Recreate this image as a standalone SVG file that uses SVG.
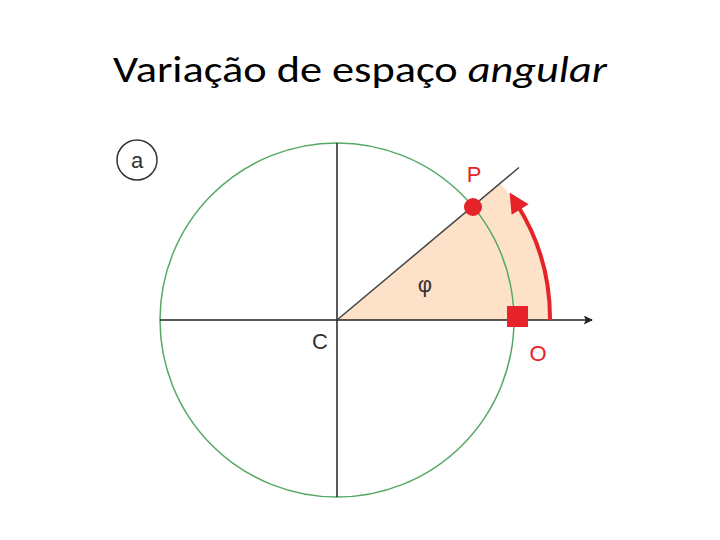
<svg xmlns="http://www.w3.org/2000/svg" width="720" height="540" viewBox="0 0 720 540">
<style>
.title{font-family:"Carlito","Liberation Sans",sans-serif;font-size:36px;fill:#000}
.lbl{font-family:"Liberation Sans","DejaVu Sans",sans-serif;font-size:22px}
.red{fill:#e52329}
.axis{stroke:#222;stroke-width:1.5;fill:none}
</style>
<defs>
<marker id="ah" viewBox="0 0 10 10" refX="9" refY="5" markerWidth="14" markerHeight="9" markerUnits="userSpaceOnUse" orient="auto"><path d="M0,0 L10,5 L0,10 L2,5 Z" fill="#222"/></marker>
<marker id="rh" viewBox="0 0 10 10" refX="2" refY="5" markerWidth="22" markerHeight="20" markerUnits="userSpaceOnUse" orient="auto"><path d="M0,0 L10,5 L0,10 Z" fill="#e52329"/></marker>
</defs>
<rect width="720" height="540" fill="#fff"/>
<text class="title" x="360" y="82" text-anchor="middle" textLength="494" lengthAdjust="spacingAndGlyphs">Variação de espaço <tspan font-style="italic">angular</tspan></text>
<g id="sector"><path d="M337,320 L550,320 A213,213 0 0 0 500.2,183.1 Z" fill="#fde1c9"/></g>
<g id="circle"><circle cx="337" cy="320" r="177" fill="none" stroke="#55a866" stroke-width="1.5"/></g>
<g id="connectors">
<line class="axis" x1="160" y1="320" x2="592" y2="320" marker-end="url(#ah)"/>
<line class="axis" x1="337" y1="143" x2="337" y2="497"/>
<line x1="337" y1="320" x2="519" y2="167.5" stroke="#444" stroke-width="1.5"/>
<path d="M550,320 A213,213 0 0 0 518,206" fill="none" stroke="#e52329" stroke-width="4" marker-end="url(#rh)"/>
</g>
<g id="badge"><circle cx="137" cy="160" r="20" fill="#fff" stroke="#333" stroke-width="1.5"/><text class="lbl" x="137" y="168" text-anchor="middle" font-size="21" fill="#333">a</text></g>
<g id="P"><circle class="red" cx="473" cy="207" r="9"/><text class="lbl" x="474" y="182" text-anchor="middle" fill="#e52329" font-size="26">P</text></g>
<g id="O"><rect class="red" x="507" y="306" width="21" height="21"/><text class="lbl" x="538" y="361" text-anchor="middle" fill="#e52329" font-size="26">O</text></g>
<g id="C"><text class="lbl" x="320" y="349" text-anchor="middle" fill="#333" font-size="24">C</text></g>
<g id="phi"><text class="lbl" x="425" y="292" text-anchor="middle" fill="#333" font-size="22">φ</text></g>
</svg>
